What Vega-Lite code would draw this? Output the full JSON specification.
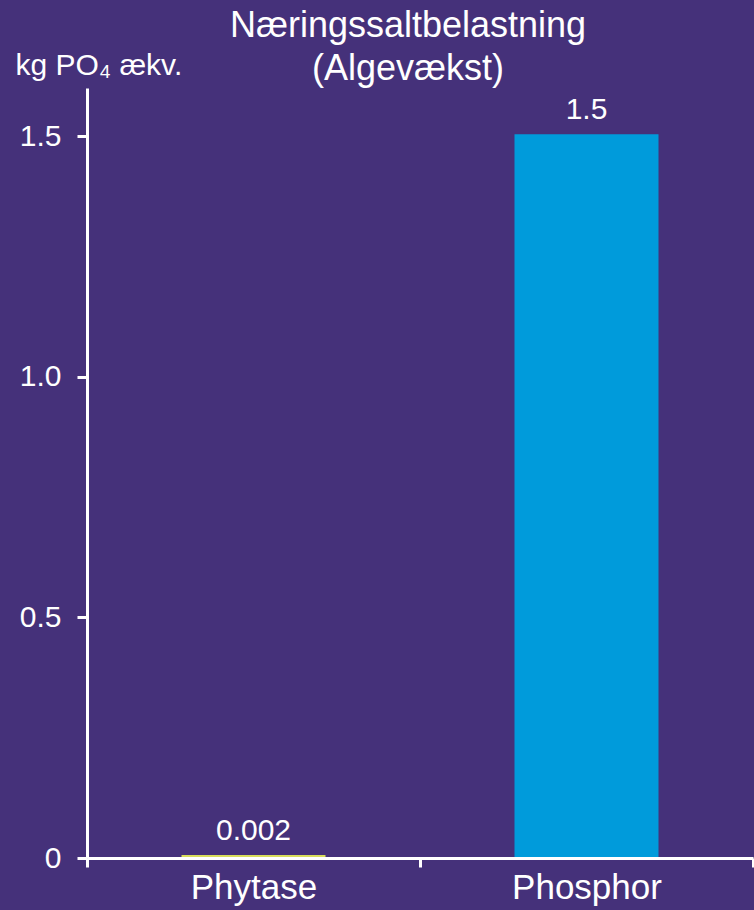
{
  "$schema": "https://vega.github.io/schema/vega-lite/v6.json",
  "width": 666,
  "height": 770,
  "autosize": "none",
  "padding": {"left": 87, "top": 88, "right": 1, "bottom": 52},
  "background": "#45317A",
  "config": {"view": {"stroke": null}, "font": "Liberation Sans"},
  "title": {
    "text": ["Næringssaltbelastning", "(Algevækst)"],
    "color": "white",
    "fontSize": 36,
    "fontWeight": "normal",
    "lineHeight": 43,
    "dx": -12,
    "dy": 43,
    "offset": 5
  },
  "data": {
    "values": [
      {"kategori": "Phytase", "vaerdi": 0.002},
      {"kategori": "Phosphor", "vaerdi": 1.5}
    ]
  },
  "encoding": {
    "x": {
      "field": "kategori",
      "type": "nominal",
      "sort": null,
      "scale": {"paddingInner": 0, "paddingOuter": 0},
      "axis": {
        "title": null,
        "labelAngle": 0,
        "labelFontSize": 35,
        "labelColor": "white",
        "domainColor": "white",
        "domainWidth": 3,
        "tickColor": "white",
        "tickWidth": 3,
        "tickSize": 9,
        "tickBand": "extent",
        "labelPadding": 3,
        "zindex": 1
      }
    },
    "y": {
      "field": "vaerdi",
      "type": "quantitative",
      "scale": {"domain": [0, 1.6], "nice": false},
      "axis": {
        "values": [0, 0.5, 1, 1.5],
        "labelExpr": "datum.value == 0 ? '0' : format(datum.value, '.1f')",
        "labelFontSize": 30,
        "labelColor": "white",
        "labelPadding": 16,
        "tickSize": 10,
        "tickWidth": 3,
        "tickColor": "white",
        "domainColor": "white",
        "domainWidth": 3,
        "grid": false,
        "title": "kg PO₄ ækv.",
        "titleAngle": 0,
        "titleX": -72,
        "titleY": -14,
        "titleAlign": "left",
        "titleBaseline": "alphabetic",
        "titleFontSize": 30,
        "titleFontWeight": "normal",
        "titleColor": "white",
        "zindex": 1
      }
    }
  },
  "layer": [
    {
      "mark": {"type": "bar", "width": 140, "strokeWidth": 4},
      "encoding": {
        "color": {
          "field": "kategori",
          "type": "nominal",
          "scale": {"domain": ["Phytase", "Phosphor"], "range": ["#D9DD5B", "#009BDB"]},
          "legend": null
        },
        "stroke": {
          "field": "kategori",
          "type": "nominal",
          "scale": {"domain": ["Phytase", "Phosphor"], "range": ["#D9DD5B", "#009BDB"]},
          "legend": null
        }
      }
    },
    {
      "mark": {"type": "text", "baseline": "alphabetic", "dy": -17, "fontSize": 30, "color": "white"},
      "encoding": {
        "text": {"field": "vaerdi", "type": "quantitative"}
      }
    }
  ]
}
